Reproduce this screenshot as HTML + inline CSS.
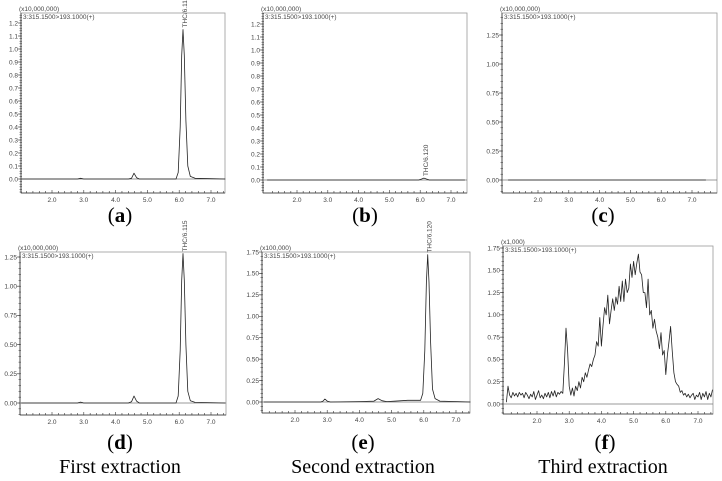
<!DOCTYPE html>
<html><head><meta charset="utf-8">
<style>
html,body{margin:0;padding:0;background:#fff;}
svg{display:block;}
.cap{font-family:"Liberation Serif",serif;fill:#000;text-anchor:middle;}
.sm{font-family:"Liberation Sans",sans-serif;font-size:6.5px;fill:#444;}
</style></head>
<body>
<svg id="fig" width="722" height="481" viewBox="0 0 722 481"></svg>
<script>
// ---- data ----
const aTimes=[1.03,2.8,2.9,3.0,4.4,4.5,4.58,4.66,4.75,5.9,5.97,6.03,6.08,6.12,6.16,6.21,6.27,6.35,6.5,7.45];
const aVals=[0,0,0.005,0,0,0.005,0.045,0.01,0,0,0.05,0.4,0.95,1.15,0.95,0.45,0.1,0.02,0.005,0];
const bTimes=[1.03,5.95,6.05,6.12,6.2,6.3,7.45];
const bVals=[0,0,0.008,0.015,0.008,0,0];
const cTimes=[1.03,7.45];
const cVals=[0,0];
const dTimes=[1.03,2.8,2.9,3.0,4.4,4.5,4.58,4.66,4.75,5.9,5.97,6.03,6.08,6.12,6.16,6.21,6.27,6.35,6.5,7.45];
const dVals=[0,0,0.008,0,0,0.01,0.06,0.015,0,0,0.06,0.45,1.05,1.28,1.05,0.5,0.1,0.02,0.005,0];
const eTimes=[1.03,2.8,2.87,2.93,3.0,3.1,4.0,4.45,4.58,4.7,4.85,5.5,5.9,5.97,6.03,6.08,6.12,6.16,6.21,6.27,6.35,6.5,7.45];
const eVals=[0,0,0.01,0.035,0.01,0,0.005,0.01,0.04,0.015,0.005,0.02,0.02,0.1,0.6,1.4,1.72,1.4,0.7,0.15,0.04,0.01,0];
const fTimes=[1.05,1.10,1.15,1.20,1.25,1.30,1.35,1.40,1.45,1.50,1.55,1.60,1.65,1.70,1.75,1.80,1.85,1.90,1.95,2.00,2.05,2.10,2.15,2.20,2.25,2.30,2.35,2.40,2.45,2.50,2.55,2.60,2.65,2.70,2.75,2.80,2.85,2.90,2.95,3.00,3.05,3.10,3.15,3.20,3.25,3.30,3.35,3.40,3.45,3.50,3.55,3.60,3.65,3.70,3.75,3.80,3.85,3.90,3.95,4.00,4.05,4.10,4.15,4.20,4.25,4.30,4.35,4.40,4.45,4.50,4.55,4.60,4.65,4.70,4.75,4.80,4.85,4.90,4.95,5.00,5.05,5.10,5.15,5.20,5.25,5.30,5.35,5.40,5.45,5.50,5.55,5.60,5.65,5.70,5.75,5.80,5.85,5.90,5.95,6.00,6.05,6.10,6.15,6.20,6.25,6.30,6.35,6.40,6.45,6.50,6.55,6.60,6.65,6.70,6.75,6.80,6.85,6.90,6.95,7.00,7.05,7.10,7.15,7.20,7.25,7.30,7.35,7.40,7.45];
const fVals=[0.02,0.2,0.1,0.07,0.13,0.09,0.12,0.08,0.13,0.1,0.12,0.07,0.13,0.1,0.06,0.11,0.08,0.14,0.05,0.1,0.15,0.07,0.1,0.06,0.12,0.08,0.13,0.07,0.14,0.09,0.15,0.08,0.13,0.11,0.14,0.12,0.45,0.85,0.6,0.2,0.1,0.18,0.09,0.2,0.15,0.25,0.18,0.3,0.25,0.35,0.3,0.38,0.45,0.42,0.5,0.55,0.7,0.65,0.97,0.65,0.88,1.08,1.0,1.22,0.9,1.05,1.18,1.05,1.2,1.12,1.32,1.15,1.38,1.15,1.4,1.25,1.3,1.57,1.42,1.6,1.45,1.58,1.68,1.48,1.45,1.25,1.25,1.08,1.4,1.0,1.05,0.85,0.95,0.82,0.75,0.62,0.8,0.55,0.6,0.33,0.55,0.7,0.87,0.6,0.35,0.25,0.22,0.2,0.13,0.15,0.1,0.12,0.08,0.11,0.07,0.1,0.12,0.05,0.1,0.08,0.13,0.05,0.12,0.08,0.14,0.05,0.12,0.08,0.16];
const xTickLabels=["2.0","3.0","4.0","5.0","6.0","7.0"];
const yTicksA=[0,0.1,0.2,0.3,0.4,0.5,0.6,0.7,0.8,0.9,1.0,1.1,1.2];
const yTicksC=[0,0.25,0.5,0.75,1.0,1.25];
const yTicksE=[0,0.25,0.5,0.75,1.0,1.25,1.5,1.75];

const NS="http://www.w3.org/2000/svg";
const svg=document.getElementById('fig');
function mk(tag,attrs,parent){const e=document.createElementNS(NS,tag);for(const k in attrs)e.setAttribute(k,attrs[k]);(parent||svg).appendChild(e);return e;}

const panels=[
 {id:'a',L:21,R:225,T:13,B:193,x2:52,x7:211,y0:179,v1:1.2,y1:23,ticks:yTicksA,dec:1,scale:'(x10,000,000)',t:aTimes,v:aVals,ann:'THC/6.115',cap:'a',cx:120,cy:222},
 {id:'b',L:263,R:467,T:13,B:193,x2:297,x7:451,y0:180,v1:1.2,y1:24,ticks:yTicksA,dec:1,scale:'(x10,000,000)',t:bTimes,v:bVals,ann:'THC/6.120',cap:'b',cx:365,cy:222},
 {id:'c',L:502,R:717,T:13,B:193,x2:538,x7:692,y0:180,v1:1.25,y1:35,ticks:yTicksC,dec:2,scale:'(x10,000,000)',t:cTimes,v:cVals,ann:null,cap:'c',cx:603,cy:222},
 {id:'d',L:20,R:226,T:252,B:415,x2:52,x7:211,y0:403,v1:1.25,y1:257,ticks:yTicksC,dec:2,scale:'(x10,000,000)',t:dTimes,v:dVals,ann:'THC/6.115',cap:'d',cx:120,cy:449},
 {id:'e',L:262,R:470,T:252,B:413,x2:295,x7:456,y0:402,v1:1.75,y1:252,ticks:yTicksE,dec:2,scale:'(x100,000)',t:eTimes,v:eVals,ann:'THC/6.120',cap:'e',cx:363,cy:449},
 {id:'f',L:503,R:713,T:246,B:414,x2:537,x7:698,y0:404,v1:1.75,y1:248,ticks:yTicksE,dec:2,scale:'(x1,000)',t:fTimes,v:fVals,ann:null,cap:'f',cx:605,cy:449}
];

panels.forEach(p=>{
 const g=mk('g',{});
 
 
 const xs=t=>p.x2+(t-2)*(p.x7-p.x2)/5;
 const ys=v=>p.y0+(v)*(p.y1-p.y0)/p.v1;
 const fr=mk('rect',{x:p.L,y:p.T,width:p.R-p.L,height:p.B-p.T,fill:'none',stroke:'#999','stroke-width':0.8},g);
 
 
 mk('line',{x1:p.L,y1:p.T,x2:p.L,y2:p.B,stroke:'#333','stroke-width':0.8},g);
 mk('line',{x1:p.L,y1:p.B,x2:p.R,y2:p.B,stroke:'#333','stroke-width':0.8},g);
 for(let k=0;k<=32;k++){const t=1.2+k*0.2;const x=xs(t);if(x<=p.L||x>=p.R)continue;
   const major=Math.abs(t-Math.round(t))<1e-6;
   mk('line',{x1:x,y1:p.B,x2:x,y2:p.B-(major?3:2),stroke:'#333','stroke-width':0.6},g);}
 xTickLabels.forEach(s=>{const tx=mk('text',{x:xs(parseFloat(s)),y:p.B+9,'text-anchor':'middle',class:'sm'},g);tx.textContent=s;
   
   });
 const step=p.ticks[1]-p.ticks[0];
 for(let v=-step;v<=p.v1+step*1.01;v+=step/5){const y=ys(v);if(y<=p.T||y>=p.B)continue;
   mk('line',{x1:p.L-1.5,y1:y,x2:p.L+1,y2:y,stroke:'#333','stroke-width':0.5},g);}
 p.ticks.forEach(v=>{const y=ys(v);mk('line',{x1:p.L-3,y1:y,x2:p.L,y2:y,stroke:'#333','stroke-width':0.6},g);
   const tx=mk('text',{x:p.L-3,y:y+2.3,'text-anchor':'end',class:'sm'},g);tx.textContent=v.toFixed(p.dec);
   
   });
 const sc=mk('text',{x:p.L-2,y:p.T-2,class:'sm'},g);sc.textContent=p.scale;
 
 
 const tr=mk('text',{x:p.L+2,y:p.T+6,class:'sm'},g);tr.textContent='3:315.1500>193.1000(+)';
 
 
 mk('line',{x1:p.L,y1:ys(0),x2:p.R,y2:ys(0),stroke:'#777','stroke-width':0.8},g);
 let d='';p.t.forEach((t,i)=>{d+=(i?'L':'M')+xs(t).toFixed(1)+','+ys(p.v[i]).toFixed(1);});
 const path=mk('path',{d:d,fill:'none',stroke:'#222','stroke-width':0.8,'stroke-linejoin':'round'},g);
 
 
 if(p.ann){let mi=0;p.v.forEach((v,i)=>{if(v>p.v[mi])mi=i;});
   const ax=xs(p.t[mi])+4, ay=ys(p.v[mi])-2;
   const an=mk('text',{x:ax,y:ay,class:'sm',transform:'rotate(-90 '+ax+' '+ay+')'},g);an.textContent=p.ann;
   
   }
 const cp=mk('text',{x:p.cx,y:p.cy,class:'cap','font-size':'21'},g);
 cp.innerHTML='(<tspan font-weight="bold">'+p.cap+'</tspan>)';
 
 
});
[['First extraction',120],['Second extraction',363],['Third extraction',603]].forEach(c=>{
 const t=mk('text',{x:c[1],y:473,class:'cap','font-size':'20'});t.textContent=c[0];
 
 
});
</script>
</body></html>
